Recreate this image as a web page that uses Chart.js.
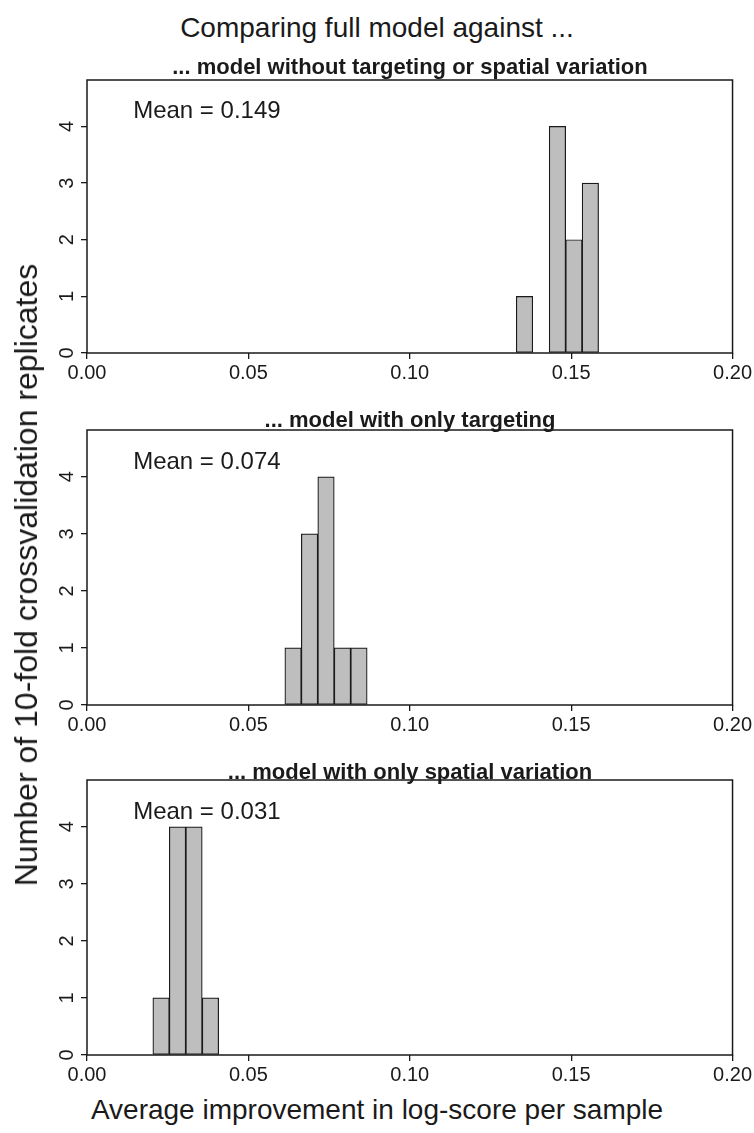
<!DOCTYPE html>
<html>
<head>
<meta charset="utf-8">
<script src="https://cdn.jsdelivr.net/npm/chart.js@4.4.0/dist/chart.umd.min.js"></script>
<style>
  body { margin: 0; background: #fff; }
  #page { position: relative; width: 754px; height: 1133px; overflow: hidden;
          font-family: "Liberation Sans", Arial, sans-serif; color: #1a1a1a; }
  canvas { position: absolute; left: 0; }
  .txt { position: absolute; white-space: nowrap; z-index: 2; }
  .main { left: 0; width: 754px; text-align: center; font-size: 28px; line-height: 32px; top: 12px; }
  .sub { left: 87px; width: 646px; text-align: center; font-size: 22px; font-weight: bold; line-height: 26px; }
  .xlab { left: 0; width: 754px; text-align: center; font-size: 28px; line-height: 32px; top: 1094px; }
  .ylab { left: 26px; top: 575px; font-size: 32px; line-height: 36px;
          transform: translate(-50%, -50%) rotate(-90deg); }
</style>
</head>
<body>
<div id="page">
  <div class="txt main">Comparing full model against ...</div>
  <div class="txt sub" id="sub1" style="top:54px"></div>
  <div class="txt sub" id="sub2" style="top:407px"></div>
  <div class="txt sub" id="sub3" style="top:759px"></div>
  <div class="txt ylab">Number of 10-fold crossvalidation replicates</div>
  <div class="txt xlab">Average improvement in log-score per sample</div>
  <canvas id="chart1" width="754" height="318" style="top:70px"></canvas>
  <canvas id="chart2" width="754" height="320" style="top:420px"></canvas>
  <canvas id="chart3" width="754" height="320" style="top:770px"></canvas>
</div>
<script>
// histogram data
var xTicks = [0, 0.05, 0.10, 0.15, 0.20];
var yTicks = [0, 1, 2, 3, 4];
var binWidth = 0.0051;

var titles = ['... model without targeting or spatial variation',
              '... model with only targeting',
              '... model with only spatial variation'];
var means = [0.149, 0.074, 0.031];

var binStarts1 = [0.1330, 0.1381, 0.1432, 0.1483, 0.1534];
var counts1 = [1, 0, 4, 2, 3];

var binStarts2 = [0.0613, 0.0664, 0.0715, 0.0766, 0.0817];
var counts2 = [1, 3, 4, 1, 1];

var binStarts3 = [0.0204, 0.0255, 0.0306, 0.0357];
var counts3 = [1, 4, 4, 1];

var ink = '#1a1a1a';
var font = '"Liberation Sans", Arial, sans-serif';

// box round the plot, rotated y labels and the mean text
var panelPlugin = {
    id: 'panelPlugin',
    afterDraw: function (chart, args, opts) {
        var c = chart.ctx, a = chart.chartArea;
        var xs = chart.scales.x, ys = chart.scales.y;
        c.save();
        c.strokeStyle = ink;
        c.lineWidth = 1.5;
        c.strokeRect(a.left, a.top, a.right - a.left, a.bottom - a.top);

        c.fillStyle = ink;
        c.font = '20px ' + font;
        c.textAlign = 'center';
        c.textBaseline = 'middle';
        ys.ticks.forEach(function (t) {
            c.save();
            c.translate(a.left - 20, ys.getPixelForValue(t.value));
            c.rotate(-Math.PI / 2);
            c.fillText(String(t.value), 0, 0);
            c.restore();
        });

        c.font = '24px ' + font;
        c.textAlign = 'left';
        c.fillText('Mean = ' + opts.mean.toFixed(3), xs.getPixelForValue(0.0143), ys.getPixelForValue(4.26));
        c.restore();
    }
};

function makePanel(id, starts, counts, mean) {
    var pts = [];
    for (var i = 0; i < starts.length; i++) {
        pts.push({x: starts[i] + binWidth / 2, y: counts[i]});
    }
    var ctx = document.getElementById(id).getContext('2d');
    return new Chart(ctx, {
        type: 'bar',
        data: {
            datasets: [{
                data: pts,
                backgroundColor: '#bebebe',
                borderColor: ink,
                borderWidth: 1.2,
                borderSkipped: false,
                barPercentage: 1,
                categoryPercentage: 1
            }]
        },
        options: {
            responsive: false,
            animation: false,
            layout: {padding: {top: 10, right: 21, left: 0, bottom: 0}},
            plugins: {
                legend: {display: false},
                tooltip: {enabled: false},
                panelPlugin: {mean: mean}
            },
            scales: {
                x: {
                    type: 'linear',
                    offset: false,
                    min: 0,
                    max: 0.2,
                    afterBuildTicks: function (s) { s.ticks = xTicks.map(function (v) { return {value: v}; }); },
                    afterFit: function (s) { s.height = 35; },
                    border: {display: false},
                    grid: {offset: false, drawOnChartArea: false, color: ink, lineWidth: 1.3, tickLength: 6},
                    ticks: {
                        color: ink,
                        padding: 2,
                        font: {family: font, size: 20},
                        maxRotation: 0,
                        callback: function (v) { return v.toFixed(2); }
                    }
                },
                y: {
                    min: 0,
                    max: 4.82,
                    afterBuildTicks: function (s) { s.ticks = yTicks.map(function (v) { return {value: v}; }); },
                    afterFit: function (s) { s.width = 87; },
                    border: {display: false},
                    grid: {drawOnChartArea: false, color: ink, lineWidth: 1.3, tickLength: 6},
                    ticks: {display: false}
                }
            }
        },
        plugins: [panelPlugin]
    });
}

document.getElementById('sub1').textContent = titles[0];
document.getElementById('sub2').textContent = titles[1];
document.getElementById('sub3').textContent = titles[2];

makePanel('chart1', binStarts1, counts1, means[0]);
makePanel('chart2', binStarts2, counts2, means[1]);
makePanel('chart3', binStarts3, counts3, means[2]);
</script>
</body>
</html>
